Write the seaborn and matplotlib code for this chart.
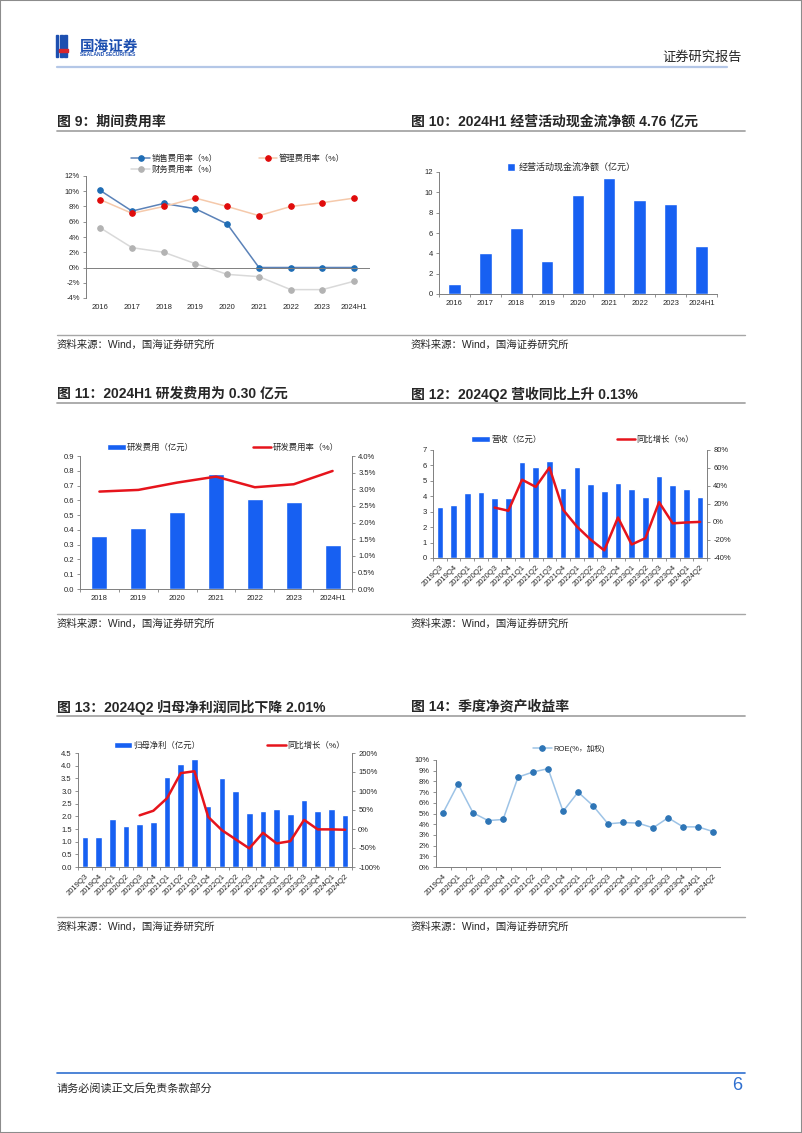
import numpy as np
import matplotlib
matplotlib.use("Agg")
import matplotlib.pyplot as plt
import seaborn as sns
from matplotlib.lines import Line2D
from matplotlib.patches import Rectangle
from matplotlib.ticker import FuncFormatter, MultipleLocator

# -------------------------------
# DATA
# -------------------------------
years9 = ["2016", "2017", "2018", "2019", "2020", "2021", "2022", "2023", "2024H1"]
sales_rate = [10.1, 7.4, 8.4, 7.7, 5.7, 0.0, 0.0, 0.0, 0.0]
admin_rate = [8.9, 7.1, 8.0, 9.1, 8.0, 6.8, 8.0, 8.5, 9.1]
fin_rate = [5.2, 2.6, 2.0, 0.5, -0.9, -1.2, -2.9, -2.9, -1.8]

cashflow = [1.0, 4.05, 6.5, 3.25, 9.75, 11.4, 9.25, 8.9, 4.76]

years11 = ["2018", "2019", "2020", "2021", "2022", "2023", "2024H1"]
rd_cost = [0.36, 0.41, 0.52, 0.78, 0.61, 0.59, 0.30]
rd_rate = [2.93, 2.98, 3.20, 3.38, 3.06, 3.15, 3.55]

quarters = ["2019Q3", "2019Q4", "2020Q1", "2020Q2", "2020Q3", "2020Q4",
            "2021Q1", "2021Q2", "2021Q3", "2021Q4", "2022Q1", "2022Q2",
            "2022Q3", "2022Q4", "2023Q1", "2023Q2", "2023Q3", "2023Q4",
            "2024Q1", "2024Q2"]
revenue = [3.3, 3.45, 4.2, 4.25, 3.9, 3.92, 6.2, 5.88, 6.28, 4.55,
           5.93, 4.8, 4.32, 4.83, 4.45, 3.97, 5.3, 4.75, 4.45, 3.97]
revenue_yoy = [16, 12.5, 47, 39, 60.5, 13.5, -5, -19.5, -31.5, 5,
               -25, -18, 22, -1.5, -0.5, 0.13]

profit = [1.2, 1.2, 1.9, 1.6, 1.68, 1.78, 3.57, 4.05, 4.27, 2.42,
          3.53, 3.0, 2.13, 2.22, 2.3, 2.1, 2.65, 2.22, 2.27, 2.07]
profit_yoy = [36, 48, 81, 147, 152, 32, -3, -27, -51, -10,
              -38, -32, 24, -1, -1, -2.01]

quarters14 = quarters[1:]
roe = [5.06, 7.75, 5.06, 4.34, 4.44, 8.4, 8.88, 9.19, 5.2, 7.0,
       5.72, 4.03, 4.16, 4.1, 3.66, 4.6, 3.75, 3.75, 3.31]

# -------------------------------
# STYLE
# -------------------------------
sns.set_style("ticks")
plt.rcParams["font.family"] = ["Liberation Sans", "Noto Sans CJK SC"]
plt.rcParams["axes.unicode_minus"] = False

BLUE = "#1760f2"
RED = "#e6141c"
AXC = "#7f7f7f"
TK = 5.5

W, H = 802, 1133
fig = plt.figure(figsize=(W / 100, H / 100), dpi=100)


def add_ax(x0, y0, x1, y1):
    return fig.add_axes([x0 / W, 1 - y1 / H, (x1 - x0) / W, (y1 - y0) / H])


def ftext(x, y, s, **kw):
    fig.text(x / W, 1 - y / H, s, **kw)


def hline(x0, x1, y, color, lw):
    fig.add_artist(Line2D([x0 / W, x1 / W], [1 - y / H, 1 - y / H],
                          color=color, lw=lw, transform=fig.transFigure))


def style_ax(ax, n, right=None, rotate=False):
    for s in ["top", "right"]:
        ax.spines[s].set_visible(False)
    for s in ["left", "bottom"]:
        ax.spines[s].set_color(AXC)
        ax.spines[s].set_linewidth(0.7)
    ax.tick_params(axis="y", labelsize=TK, length=2.5, width=0.6, color=AXC, pad=2)
    ax.set_xticks(np.arange(n))
    ax.set_xticks(np.arange(n + 1) - 0.5, minor=True)
    ax.tick_params(axis="x", which="major", length=0, labelsize=TK, pad=4)
    ax.tick_params(axis="x", which="minor", length=2.5, width=0.6, color=AXC)
    if rotate:
        for lab in ax.get_xticklabels():
            lab.set_rotation(45)
            lab.set_ha("right")
            lab.set_rotation_mode("anchor")
    ax.set_xlabel("")
    ax.set_ylabel("")
    if right is not None:
        for s in ["top", "left", "bottom"]:
            right.spines[s].set_visible(False)
        right.spines["right"].set_color(AXC)
        right.spines["right"].set_linewidth(0.7)
        right.tick_params(axis="y", labelsize=TK, length=2.5, width=0.6, color=AXC, pad=2)
        right.set_ylabel("")


def leg(ax, handles, labels, x, y, ncol=2, spacing=6):
    ax.legend(handles, labels, loc="lower left", bbox_to_anchor=(x, y), ncol=ncol,
              frameon=False, fontsize=6, handlelength=2.2, handletextpad=0.2,
              columnspacing=spacing, borderaxespad=0, borderpad=0, labelspacing=0.3)


def combo_legend(ax, ax2, x, y, spacing):
    h1, l1 = ax.get_legend_handles_labels()
    h2, l2 = ax2.get_legend_handles_labels()
    for a in (ax, ax2):
        if a.get_legend() is not None:
            a.get_legend().remove()
    leg(ax2, h1 + h2, l1 + l2, x, y, spacing=spacing)


# -------------------------------
# PAGE DECORATION
# -------------------------------
fig.add_artist(Rectangle((0, 0), 1, 1, transform=fig.transFigure, fill=False,
                         edgecolor="#8c8c8c", lw=1.5))
for dx in [0, 4, 8]:
    fig.add_artist(Rectangle(((56 + dx) / W, 1 - 57 / H), 2.5 / W, 22 / H,
                             transform=fig.transFigure, color="#1d4fb0"))
fig.add_artist(Rectangle((59 / W, 1 - 52 / H), 9 / W, 3 / H,
                         transform=fig.transFigure, color="#d9252b"))
ftext(80, 46, "国海证券", fontsize=10.5, fontweight="bold", color="#1d4fb0",
      va="center", family=["Noto Sans CJK SC"])
ftext(80, 55, "SEALAND SECURITIES", fontsize=3.6, fontweight="bold",
      color="#1d4fb0", va="center")
ftext(742, 57, "证券研究报告", fontsize=9.5, ha="right", va="center",
      family=["Noto Sans CJK SC"])
hline(57, 727, 67, "#b4c7e7", 1.6)

titles = [(57, 122, "图 9：期间费用率"),
          (411, 122, "图 10：2024H1 经营活动现金流净额 4.76 亿元"),
          (57, 394, "图 11：2024H1 研发费用为 0.30 亿元"),
          (411, 394, "图 12：2024Q2 营收同比上升 0.13%"),
          (57, 707, "图 13：2024Q2 归母净利润同比下降 2.01%"),
          (411, 707, "图 14：季度净资产收益率")]
for x, y, s in titles:
    ftext(x, y, s, fontsize=10, fontweight="bold", va="center")
for y in [131, 403, 716]:
    hline(57, 745, y, "#a6a6a6", 1.3)
for y in [335, 614, 917]:
    hline(57, 745, y, "#a6a6a6", 1.0)
    ftext(57, y + 10, "资料来源：Wind，国海证券研究所", fontsize=7.5, va="center")
    ftext(411, y + 10, "资料来源：Wind，国海证券研究所", fontsize=7.5, va="center")

hline(57, 745, 1073, "#2f6fcf", 1.2)
ftext(57, 1088, "请务必阅读正文后免责条款部分", fontsize=8, va="center")
ftext(742, 1085, "6", fontsize=13, color="#2f6fcf", ha="right", va="center")

# -------------------------------
# FIG 9: expense ratios
# -------------------------------
ax = add_ax(86, 176, 370, 298)
x9 = np.arange(len(years9))
sns.lineplot(x=x9, y=sales_rate, ax=ax, color="#5b82b8", lw=1.1, marker="o",
             markersize=4, markerfacecolor="#1f6db5", markeredgecolor="#1f6db5",
             label="销售费用率（%）")
sns.lineplot(x=x9, y=admin_rate, ax=ax, color="#f5c9ab", lw=1.1, marker="o",
             markersize=4, markerfacecolor="#e00b0b", markeredgecolor="#e00b0b",
             label="管理费用率（%）")
sns.lineplot(x=x9, y=fin_rate, ax=ax, color="#d9d9d9", lw=1.1, marker="o",
             markersize=4, markerfacecolor="#b3b3b3", markeredgecolor="#b3b3b3",
             label="财务费用率（%）")
style_ax(ax, len(years9))
ax.spines["bottom"].set_visible(False)
ax.tick_params(axis="x", which="minor", length=0)
ax.axhline(0, color=AXC, lw=0.7)
ax.set_xticklabels(years9)
ax.set_xlim(-0.45, 8.5)
ax.set_ylim(-4, 12)
ax.yaxis.set_major_locator(MultipleLocator(2))
ax.yaxis.set_major_formatter(FuncFormatter(lambda v, p: f"{v:.0f}%"))
h, l = ax.get_legend_handles_labels()
leg(ax, [h[0], h[2], h[1]], [l[0], l[2], l[1]], 0.16, 1.02, spacing=5)

# -------------------------------
# FIG 10: operating cash flow
# -------------------------------
ax = add_ax(439, 172, 717, 294)
sns.barplot(x=years9, y=cashflow, ax=ax, color=BLUE, width=0.41, saturation=1,
            label="经营活动现金流净额（亿元）")
style_ax(ax, len(years9))
ax.set_ylim(0, 12)
ax.set_xlim(-0.5, 8.5)
ax.yaxis.set_major_locator(MultipleLocator(2))
ax.legend(loc="lower left", bbox_to_anchor=(0.245, 1.0), frameon=False,
          fontsize=6.5, handlelength=0.9, handleheight=0.9, handletextpad=0.4,
          borderaxespad=0, borderpad=0)

# -------------------------------
# FIG 11: R&D
# -------------------------------
ax = add_ax(80, 456, 352, 589)
sns.barplot(x=years11, y=rd_cost, ax=ax, color=BLUE, width=0.41, saturation=1,
            label="研发费用（亿元）")
ax2 = ax.twinx()
sns.lineplot(x=np.arange(len(years11)), y=rd_rate, ax=ax2, color=RED, lw=1.8,
             label="研发费用率（%）")
style_ax(ax, len(years11), right=ax2)
ax.set_xlim(-0.5, len(years11) - 0.5)
ax.set_ylim(0, 0.9)
ax.yaxis.set_major_locator(MultipleLocator(0.1))
ax.yaxis.set_major_formatter(FuncFormatter(lambda v, p: f"{v:.1f}"))
ax2.set_ylim(0, 4)
ax2.yaxis.set_major_locator(MultipleLocator(0.5))
ax2.yaxis.set_major_formatter(FuncFormatter(lambda v, p: f"{v:.1f}%"))
combo_legend(ax, ax2, 0.1, 1.03, 7)

# -------------------------------
# FIG 12: revenue
# -------------------------------
ax = add_ax(433, 450, 707, 558)
sns.barplot(x=quarters, y=revenue, ax=ax, color=BLUE, width=0.48, saturation=1,
            label="营收（亿元）")
ax2 = ax.twinx()
sns.lineplot(x=np.arange(4, len(quarters)), y=revenue_yoy, ax=ax2, color=RED,
             lw=1.8, label="同比增长（%）")
style_ax(ax, len(quarters), right=ax2, rotate=True)
ax.set_xlim(-0.5, len(quarters) - 0.5)
ax.set_ylim(0, 7)
ax.yaxis.set_major_locator(MultipleLocator(1))
ax2.set_ylim(-40, 80)
ax2.yaxis.set_major_locator(MultipleLocator(20))
ax2.yaxis.set_major_formatter(FuncFormatter(lambda v, p: f"{v:.0f}%"))
combo_legend(ax, ax2, 0.14, 1.06, 9)

# -------------------------------
# FIG 13: net profit
# -------------------------------
ax = add_ax(78, 753, 352, 867)
sns.barplot(x=quarters, y=profit, ax=ax, color=BLUE, width=0.48, saturation=1,
            label="归母净利（亿元）")
ax2 = ax.twinx()
sns.lineplot(x=np.arange(4, len(quarters)), y=profit_yoy, ax=ax2, color=RED,
             lw=1.8, label="同比增长（%）")
style_ax(ax, len(quarters), right=ax2, rotate=True)
ax.set_xlim(-0.5, len(quarters) - 0.5)
ax.set_ylim(0, 4.5)
ax.yaxis.set_major_locator(MultipleLocator(0.5))
ax.yaxis.set_major_formatter(FuncFormatter(lambda v, p: f"{v:.1f}"))
ax2.set_ylim(-100, 200)
ax2.yaxis.set_major_locator(MultipleLocator(50))
ax2.yaxis.set_major_formatter(FuncFormatter(lambda v, p: f"{v:.0f}%"))
combo_legend(ax, ax2, 0.13, 1.03, 8)

# -------------------------------
# FIG 14: ROE
# -------------------------------
ax = add_ax(436, 760, 720, 867)
sns.lineplot(x=np.arange(len(quarters14)), y=roe, ax=ax, color="#9dc3e6", lw=1.1,
             marker="o", markersize=4, markerfacecolor="#2e75b6",
             markeredgecolor="#2e75b6", label="ROE(%，加权)")
style_ax(ax, len(quarters14))
ax.set_xticklabels(quarters14)
for lab in ax.get_xticklabels():
    lab.set_rotation(45)
    lab.set_ha("right")
    lab.set_rotation_mode("anchor")
ax.set_xlim(-0.47, len(quarters14) - 0.54)
ax.set_ylim(0, 10)
ax.yaxis.set_major_locator(MultipleLocator(1))
ax.yaxis.set_major_formatter(FuncFormatter(lambda v, p: f"{v:.0f}%"))
ax.legend(loc="lower left", bbox_to_anchor=(0.34, 1.07), frameon=False,
          fontsize=5.5, handlelength=2.5, handletextpad=0.2, borderaxespad=0,
          borderpad=0)

fig.savefig("out.png", dpi=100)
